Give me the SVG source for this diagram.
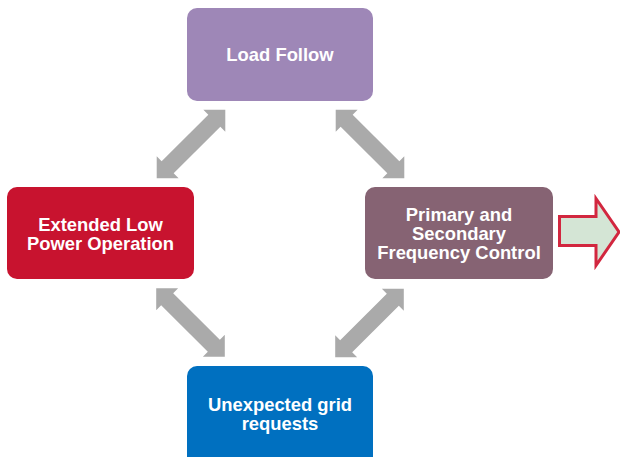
<svg xmlns="http://www.w3.org/2000/svg" width="620" height="457" viewBox="0 0 620 457">
<defs>
<style>
.lbl{font-family:"Liberation Sans",Arial,sans-serif;font-weight:bold;font-size:18.4px;fill:#fff;text-anchor:middle}
.dbl{fill:#AAAAAA}
</style>
<polygon id="dbl" points="-48.5,0 -33,-15.5 -33,-8.5 33,-8.5 33,-15.5 48.5,0 33,15.5 33,8.5 -33,8.5 -33,15.5"/>
</defs>
<rect width="620" height="457" fill="#fff"/>
<g id="connectors" class="dbl">
<use href="#dbl" transform="translate(191,144) rotate(-45)"/>
<use href="#dbl" transform="translate(370,144) rotate(45)"/>
<use href="#dbl" transform="translate(190.5,322.5) rotate(45)"/>
<use href="#dbl" transform="translate(369.5,323) rotate(-45)"/>
<polygon points="559.5,216.5 596,216.5 596,198.5 619,232 596,265.5 596,245.5 559.5,245.5" fill="#D4E5D5" stroke="#D2273F" stroke-width="3"/>
</g>
<g id="load-follow">
<rect x="187" y="8" width="186" height="93" rx="10" fill="#9E87B7"/>
<text class="lbl" x="280" y="60.5">Load Follow</text>
</g>
<g id="extended-low-power">
<rect x="7" y="187" width="187" height="92" rx="10" fill="#C8132F"/>
<text class="lbl" x="100.5" y="230.5">Extended Low</text>
<text class="lbl" x="100.5" y="249.5">Power Operation</text>
</g>
<g id="frequency-control">
<rect x="365" y="187" width="188" height="92" rx="10" fill="#866373"/>
<text class="lbl" x="459" y="220.5">Primary and</text>
<text class="lbl" x="459" y="239.5">Secondary</text>
<text class="lbl" x="459" y="258.5">Frequency Control</text>
</g>
<g id="grid-requests">
<rect x="187" y="366" width="186" height="100" rx="10" fill="#0070C0"/>
<text class="lbl" x="280" y="410.5">Unexpected grid</text>
<text class="lbl" x="280" y="429.5">requests</text>
</g>
</svg>
